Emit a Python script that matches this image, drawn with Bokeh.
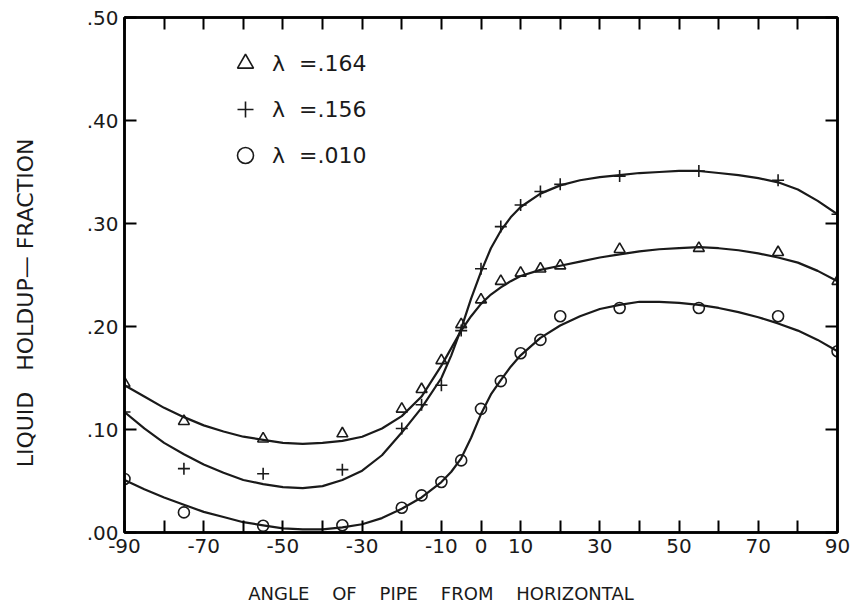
from bokeh.plotting import figure
from bokeh.models import LinearAxis, FixedTicker, Legend, LegendItem, ColumnDataSource, Range1d
from bokeh.embed import file_html
from bokeh.resources import INLINE

# ---------------- data ----------------
pt_angle = [-90, -75, -55, -35, -20, -15, -10, -5, 0, 5, 10, 15, 20, 35, 55, 75, 90]
tri_val = [0.145, 0.108, 0.091, 0.096, 0.120, 0.139, 0.167, 0.202, 0.226, 0.244, 0.252, 0.256, 0.259, 0.275, 0.276, 0.272, 0.244]
plus_val = [0.117, 0.062, 0.057, 0.061, 0.101, 0.124, 0.143, 0.196, 0.256, 0.297, 0.318, 0.331, 0.338, 0.346, 0.351, 0.342, 0.309]
circ_val = [0.052, 0.0195, 0.0065, 0.007, 0.024, 0.036, 0.049, 0.070, 0.120, 0.147, 0.174, 0.187, 0.210, 0.218, 0.218, 0.210, 0.176]

curve_angle = [-90, -85, -80, -75, -70, -65, -60, -55, -50, -45, -40, -35, -30, -25, -20, -15, -10,
               -7.5, -5, -2.5, 0, 2.5, 5, 7.5, 10, 15, 20, 25, 30, 35, 40, 45, 50, 55, 60, 65, 70, 75, 80, 85, 90]
tri_curve = [0.143, 0.132, 0.121, 0.112, 0.104, 0.098, 0.093, 0.090, 0.087, 0.086, 0.087, 0.089, 0.093, 0.101, 0.113, 0.132, 0.162,
             0.179, 0.196, 0.210, 0.222, 0.231, 0.238, 0.244, 0.249, 0.255, 0.259, 0.263, 0.267, 0.270, 0.273, 0.275, 0.276, 0.277, 0.276, 0.274, 0.271, 0.267, 0.262, 0.254, 0.244]
plus_curve = [0.117, 0.101, 0.087, 0.076, 0.066, 0.058, 0.051, 0.047, 0.044, 0.043, 0.045, 0.051, 0.060, 0.075, 0.097, 0.121, 0.150,
              0.172, 0.198, 0.227, 0.253, 0.276, 0.293, 0.306, 0.316, 0.329, 0.337, 0.342, 0.345, 0.347, 0.349, 0.350, 0.351, 0.351, 0.349, 0.347, 0.344, 0.340, 0.333, 0.322, 0.309]
circ_curve = [0.051, 0.042, 0.034, 0.027, 0.020, 0.015, 0.010, 0.007, 0.004, 0.003, 0.003, 0.005, 0.008, 0.014, 0.023, 0.034, 0.049,
              0.059, 0.072, 0.092, 0.115, 0.134, 0.148, 0.161, 0.172, 0.189, 0.201, 0.210, 0.217, 0.221, 0.224, 0.224, 0.223, 0.221, 0.218, 0.214, 0.209, 0.203, 0.196, 0.187, 0.176]

legend_labels = ["\u03bb\u00a0\u00a0=.164", "\u03bb\u00a0\u00a0=.156", "\u03bb\u00a0\u00a0=.010"]

x_ticks = list(range(-90, 91, 10))
x_tick_values = [-90, -70, -50, -30, -10, 0, 10, 30, 50, 70, 90]
x_tick_labels = ["-90", "-70", "-50", "-30", "-10", "0", "10", "30", "50", "70", "90"]
x_unlabeled = [t for t in x_ticks if t not in x_tick_values]
y_ticks = [0.0, 0.1, 0.2, 0.3, 0.4, 0.5]
y_tick_labels = [".00", ".10", ".20", ".30", ".40", ".50"]

FONT = "DejaVu Sans"
NB = "\u00a0"
INK = "#1a1a1a"
TICK = dict(major_tick_in=12, major_tick_out=0, major_tick_line_width=2,
            minor_tick_in=12, minor_tick_out=0, minor_tick_line_width=2,
            axis_line_width=2.5)

p = figure(width=852, height=606, output_backend="svg", toolbar_location=None,
           x_range=Range1d(-90, 90), y_range=Range1d(0, 0.5),
           min_border_left=124, min_border_right=15, min_border_top=17, min_border_bottom=74,
           background_fill_color="white", border_fill_color="white")
p.xgrid.visible = False
p.ygrid.visible = False
p.outline_line_color = "black"
p.outline_line_width = 2.5

# bottom axis: labelled ticks as major, the others as (equally long) minor ticks
xa = p.xaxis[0]
xa.ticker = FixedTicker(ticks=x_tick_values, minor_ticks=x_unlabeled)
xa.major_label_overrides = {v: l for v, l in zip(x_tick_values, x_tick_labels)}
for k, v in TICK.items():
    setattr(xa, k, v)
xa.major_label_standoff = 6
xa.major_label_text_font = FONT
xa.major_label_text_font_size = "20px"
xa.major_label_text_color = INK
xa.axis_label = ("ANGLE" + NB * 4 + "OF" + NB * 4 + "PIPE" + NB * 4 + "FROM" + NB * 4 + "HORIZONTAL" + NB * 14)
xa.axis_label_text_font = FONT
xa.axis_label_text_font_size = "18px"
xa.axis_label_text_font_style = "normal"
xa.axis_label_text_color = INK
xa.axis_label_standoff = 27

# left axis
ya = p.yaxis[0]
ya.ticker = FixedTicker(ticks=y_ticks)
ya.major_label_overrides = {v: l for v, l in zip(y_ticks, y_tick_labels)}
for k, v in TICK.items():
    setattr(ya, k, v)
ya.major_label_standoff = 6
ya.major_label_text_font = FONT
ya.major_label_text_font_size = "20px"
ya.major_label_text_color = INK
ya.axis_label = "LIQUID" + NB * 3 + "HOLDUP\u2014" + NB + "FRACTION" + NB * 8
ya.axis_label_text_font = FONT
ya.axis_label_text_font_size = "22px"
ya.axis_label_text_font_style = "normal"
ya.axis_label_text_color = INK
ya.axis_label_standoff = 46

# top and right axes: tick marks only (minor ticks, so no labels are drawn)
top = LinearAxis(ticker=FixedTicker(ticks=[], minor_ticks=x_ticks), **TICK)
p.add_layout(top, "above")
right = LinearAxis(ticker=FixedTicker(ticks=[], minor_ticks=y_ticks), **TICK)
p.add_layout(right, "right")

# curves
for vals in (tri_curve, plus_curve, circ_curve):
    p.line(curve_angle, vals, line_color=INK, line_width=2.2)

# data points
mk = dict(fill_color=None, line_color=INK, line_width=1.6)
p.scatter(pt_angle, tri_val, marker="triangle", size=11, **mk)
p.scatter(pt_angle, plus_val, marker="cross", size=12, **mk)
p.scatter(pt_angle, circ_val, marker="circle", size=11, **mk)

# legend-only renderers (nothing drawn in the frame)
nan = float("nan")
leg_src = ColumnDataSource(data=dict(x=[nan], y=[nan]))
r_t = p.scatter("x", "y", source=leg_src, marker="triangle", size=16, **mk)
r_p = p.scatter("x", "y", source=leg_src, marker="cross", size=17, **mk)
r_c = p.scatter("x", "y", source=leg_src, marker="circle", size=16, **mk)

legend = Legend(items=[LegendItem(label=legend_labels[0], renderers=[r_t]),
                       LegendItem(label=legend_labels[1], renderers=[r_p]),
                       LegendItem(label=legend_labels[2], renderers=[r_c])],
                location=(101, 357), orientation="vertical",
                label_text_font=FONT, label_text_font_size="22px", label_text_color=INK,
                glyph_width=40, glyph_height=40, label_height=40, label_standoff=7,
                spacing=6, padding=0, margin=0,
                border_line_alpha=0, background_fill_alpha=0)
p.add_layout(legend, "center")

open("out.html", "w").write(file_html(p, INLINE))
